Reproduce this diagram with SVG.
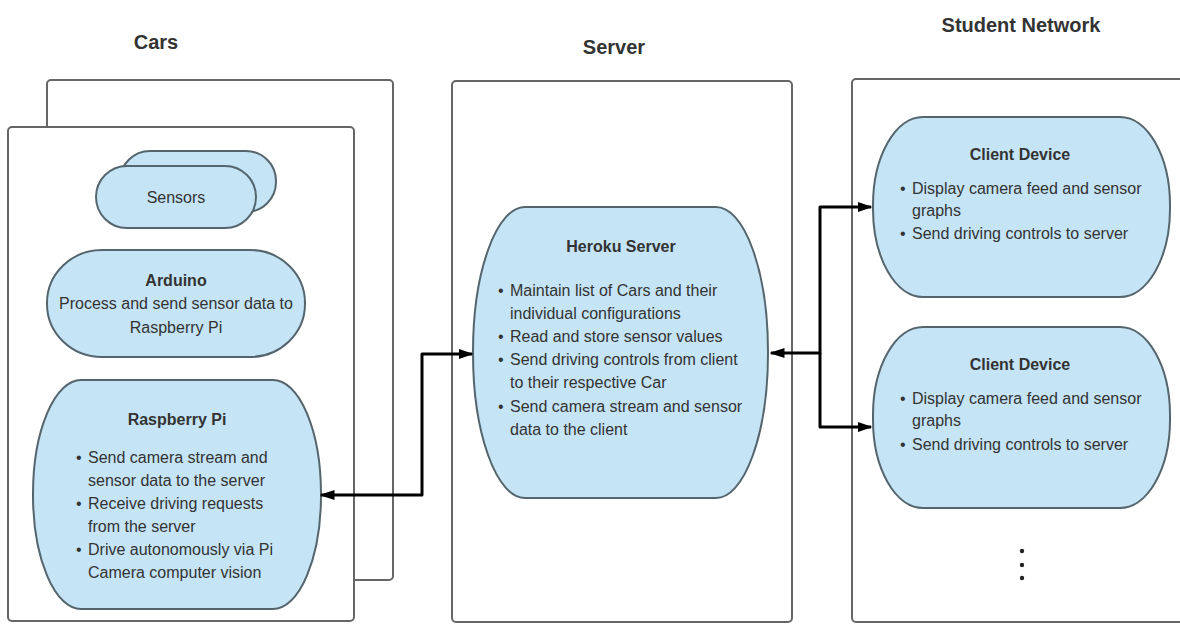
<svg xmlns="http://www.w3.org/2000/svg" width="1180" height="624" viewBox="0 0 1180 624">
<defs>
<style>
.box{fill:#fff;stroke:#666;stroke-width:2}
.node{fill:#c5e4f6;stroke:#55656d;stroke-width:2}
.t{font-family:"Liberation Sans",Arial,sans-serif;font-size:16px;fill:#333}
.b{font-weight:bold}
.h{font-family:"Liberation Sans",Arial,sans-serif;font-size:20px;font-weight:bold;fill:#333;text-anchor:middle}
.c{text-anchor:middle}
.conn{fill:none;stroke:#000;stroke-width:3;stroke-linejoin:round}
</style>
<marker id="ah" viewBox="0 0 10 10" refX="9" refY="5" markerWidth="5" markerHeight="5" orient="auto-start-reverse" markerUnits="strokeWidth">
<path d="M0,1.6 L10,5 L0,8.4 z" fill="#000"/>
</marker>
</defs>

<g id="titles">
<text class="h" x="156" y="49">Cars</text>
<text class="h" x="614" y="54">Server</text>
<text class="h" x="1021" y="32">Student Network</text>
</g>

<g id="cars">
<rect class="box" x="47" y="80" width="346" height="500" rx="4"/>
<rect class="box" x="8" y="127" width="346" height="494" rx="4"/>
</g>
<g id="server">
<rect class="box" x="452" y="81" width="340" height="541" rx="4"/>
</g>
<g id="student-network">
<rect class="box" x="852" y="79" width="340" height="543" rx="4"/>
</g>

<g id="sensors">
<rect class="node" x="120" y="151" width="156" height="61" rx="30" ry="30"/>
<rect class="node" x="96" y="166" width="160" height="62" rx="31" ry="31"/>
<text class="t c" x="176" y="203">Sensors</text>
</g>

<g id="arduino">
<rect class="node" x="47" y="250" width="258" height="107" rx="55" ry="53"/>
<text class="t b c" x="176" y="286">Arduino</text>
<text class="t c" x="176" y="309">Process and send sensor data to</text>
<text class="t c" x="176" y="333">Raspberry Pi</text>
</g>

<g id="raspberry-pi">
<rect class="node" x="33" y="380" width="288" height="229" rx="48" ry="114"/>
<text class="t b c" x="177" y="425">Raspberry Pi</text>
<text class="t" x="76" y="463">•</text>
<text class="t" x="88" y="463">Send camera stream and</text>
<text class="t" x="88" y="486">sensor data to the server</text>
<text class="t" x="76" y="509">•</text>
<text class="t" x="88" y="509">Receive driving requests</text>
<text class="t" x="88" y="532">from the server</text>
<text class="t" x="76" y="555">•</text>
<text class="t" x="88" y="555">Drive autonomously via Pi</text>
<text class="t" x="88" y="578">Camera computer vision</text>
</g>

<g id="heroku-server">
<rect class="node" x="473" y="207" width="295" height="291" rx="52" ry="145"/>
<text class="t b c" x="621" y="252">Heroku Server</text>
<text class="t" x="498" y="296">•</text>
<text class="t" x="510" y="296">Maintain list of Cars and their</text>
<text class="t" x="510" y="319">individual configurations</text>
<text class="t" x="498" y="342">•</text>
<text class="t" x="510" y="342">Read and store sensor values</text>
<text class="t" x="498" y="365">•</text>
<text class="t" x="510" y="365">Send driving controls from client</text>
<text class="t" x="510" y="388">to their respective Car</text>
<text class="t" x="498" y="412">•</text>
<text class="t" x="510" y="412">Send camera stream and sensor</text>
<text class="t" x="510" y="435">data to the client</text>
</g>

<g id="client-device-1">
<rect class="node" x="873" y="117" width="297" height="180" rx="50" ry="88"/>
<text class="t b c" x="1020" y="160">Client Device</text>
<text class="t" x="900" y="194">•</text>
<text class="t" x="912" y="194">Display camera feed and sensor</text>
<text class="t" x="912" y="216">graphs</text>
<text class="t" x="900" y="239">•</text>
<text class="t" x="912" y="239">Send driving controls to server</text>
</g>

<g id="client-device-2">
<rect class="node" x="873" y="327" width="297" height="181" rx="50" ry="88"/>
<text class="t b c" x="1020" y="370">Client Device</text>
<text class="t" x="900" y="404">•</text>
<text class="t" x="912" y="404">Display camera feed and sensor</text>
<text class="t" x="912" y="426">graphs</text>
<text class="t" x="900" y="450">•</text>
<text class="t" x="912" y="450">Send driving controls to server</text>
</g>

<g id="more-clients" fill="#222">
<circle cx="1022" cy="551" r="2.2"/>
<circle cx="1022" cy="565" r="2.2"/>
<circle cx="1022" cy="578" r="2.2"/>
</g>

<g id="connectors">
<path class="conn" d="M321,495 H422 V354 H472" marker-start="url(#ah)" marker-end="url(#ah)"/>
<path class="conn" d="M771,353 H820 V207 H871" marker-start="url(#ah)" marker-end="url(#ah)"/>
<path class="conn" d="M820,353 V427 H871" marker-end="url(#ah)"/>
</g>
</svg>
